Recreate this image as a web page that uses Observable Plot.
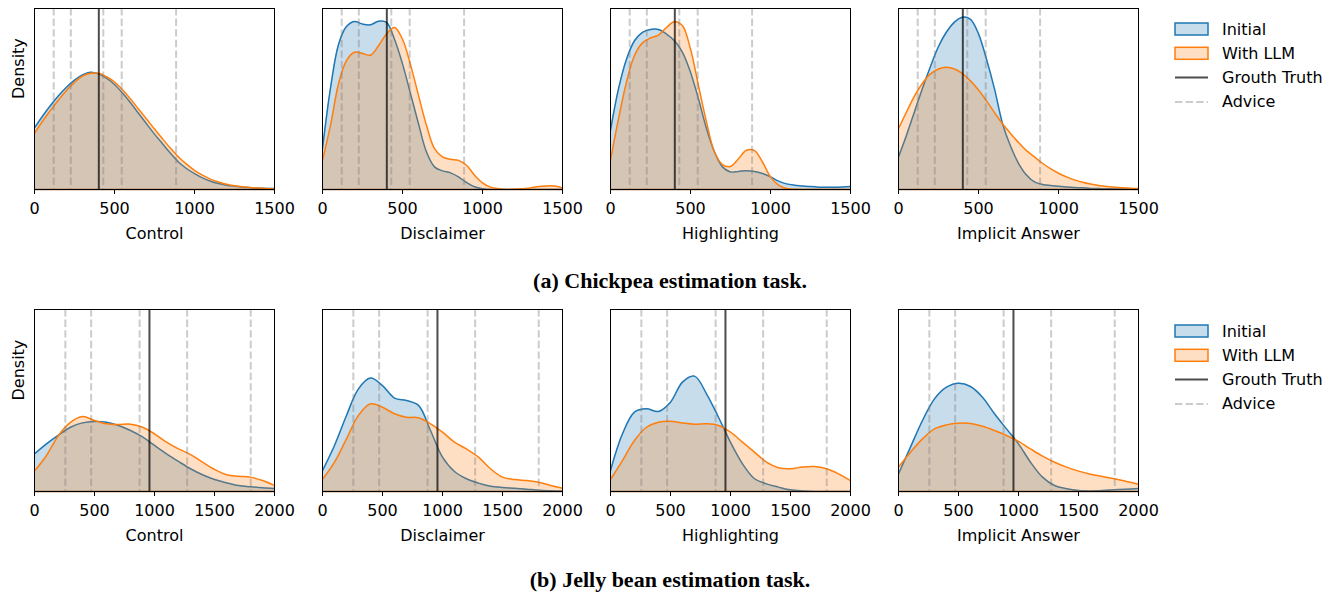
<!DOCTYPE html>
<html>
<head>
<meta charset="utf-8">
<script src="https://cdn.jsdelivr.net/npm/d3@7"></script>
<script src="https://cdn.jsdelivr.net/npm/@observablehq/plot@0.6"></script>
<style>
  body { margin: 0; background: #fff; }
  #root { position: relative; width: 1336px; height: 596px; font-family: "DejaVu Sans", sans-serif; overflow: hidden; }
  .panel { position: absolute; }
  .caption { position: absolute; left: 0; width: 1340px; text-align: center; font-family: "Liberation Serif", serif; font-weight: bold; font-size: 22px; line-height: 24px; height: 24px; }
  .legend { position: absolute; }
</style>
</head>
<body>
<div id="root"></div>
<script>
// ---------- categories / labels ----------
const conditions = ["Control", "Disclaimer", "Highlighting", "Implicit Answer"];
const seriesNames = ["Initial", "With LLM", "Grouth Truth", "Advice"];
const captions = ["(a) Chickpea estimation task.", "(b) Jelly bean estimation task."];

// ---------- chickpea task (x grid every 50) ----------
const chickpeaGrid = [0,50,100,150,200,250,300,350,400,450,500,550,600,650,700,750,800,850,900,950,1000,1050,1100,1150,1200,1250,1300,1350,1400,1450,1500];
const chickpeaTicks = [0, 500, 1000, 1500];
const chickpeaTruth = 402;
const chickpeaAdvice = [120, 227, 430, 545, 885];

const chickpeaControlInitial = [0.34,0.405,0.464,0.518,0.565,0.604,0.633,0.648,0.639,0.615,0.58,0.533,0.479,0.421,0.363,0.306,0.253,0.2,0.152,0.116,0.088,0.064,0.046,0.033,0.024,0.018,0.013,0.01,0.007,0.006,0.005];
const chickpeaControlLLM     = [0.31,0.377,0.437,0.495,0.547,0.592,0.626,0.642,0.642,0.623,0.594,0.551,0.5,0.445,0.39,0.334,0.28,0.228,0.18,0.14,0.106,0.079,0.057,0.041,0.029,0.021,0.015,0.011,0.008,0.005,0.004];

const chickpeaDisclaimerInitial = [0.226,0.56,0.8,0.9,0.928,0.914,0.91,0.93,0.923,0.83,0.694,0.53,0.363,0.207,0.125,0.103,0.092,0.07,0.039,0.015,0.004,0,0,0,0,0,0,0,0,0,0];
const chickpeaDisclaimerLLM     = [0.161,0.354,0.583,0.712,0.758,0.752,0.742,0.794,0.859,0.895,0.83,0.69,0.52,0.354,0.226,0.18,0.167,0.161,0.134,0.079,0.037,0.013,0.004,0,0.001,0.004,0.009,0.016,0.02,0.019,0.009];

const chickpeaHighlightingInitial = [0.327,0.556,0.72,0.822,0.868,0.884,0.884,0.859,0.822,0.758,0.648,0.5,0.336,0.207,0.125,0.097,0.1,0.104,0.1,0.088,0.07,0.046,0.031,0.024,0.02,0.016,0.013,0.012,0.012,0.014,0.017];
const chickpeaHighlightingLLM     = [0.161,0.39,0.593,0.74,0.81,0.837,0.853,0.895,0.927,0.905,0.776,0.574,0.373,0.207,0.138,0.127,0.17,0.217,0.215,0.152,0.07,0.024,0.006,0.001,0,0,0,0,0,0,0];

const chickpeaImplicitInitial = [0.18,0.3,0.43,0.56,0.68,0.79,0.87,0.925,0.952,0.94,0.86,0.72,0.556,0.365,0.24,0.145,0.08,0.042,0.028,0.022,0.018,0.014,0.011,0.009,0.006,0.005,0.004,0.003,0.003,0.002,0.002];
const chickpeaImplicitLLM     = [0.336,0.428,0.516,0.587,0.639,0.666,0.675,0.666,0.64,0.6,0.55,0.49,0.425,0.363,0.31,0.26,0.215,0.18,0.145,0.115,0.09,0.07,0.053,0.04,0.03,0.022,0.016,0.012,0.009,0.007,0.005];

// ---------- jelly bean task (x grid every 100) ----------
const jellyGrid = [0,100,200,300,400,500,600,700,800,900,1000,1100,1200,1300,1400,1500,1600,1700,1800,1900,2000];
const jellyTicks = [0, 500, 1000, 1500, 2000];
const jellyTruth = 958;
const jellyAdvice = [257, 472, 876, 1272, 1802];

const jellyControlInitial = [0.207,0.262,0.31,0.353,0.377,0.385,0.381,0.363,0.335,0.3,0.253,0.207,0.165,0.125,0.092,0.066,0.048,0.033,0.026,0.02,0.016];
const jellyControlLLM     = [0.112,0.198,0.308,0.38,0.412,0.39,0.372,0.368,0.37,0.353,0.317,0.271,0.234,0.203,0.161,0.121,0.092,0.084,0.079,0.06,0.033];

const jellyDisclaimerInitial = [0.115,0.253,0.418,0.564,0.623,0.582,0.513,0.5,0.473,0.335,0.189,0.11,0.07,0.046,0.029,0.022,0.018,0.013,0.007,0.004,0.002];
const jellyDisclaimerLLM     = [0.066,0.161,0.289,0.418,0.482,0.463,0.427,0.408,0.405,0.372,0.326,0.271,0.234,0.189,0.125,0.079,0.066,0.06,0.051,0.033,0.018];

const jellyHighlightingInitial = [0.115,0.317,0.436,0.454,0.44,0.491,0.601,0.634,0.537,0.408,0.27,0.152,0.07,0.042,0.024,0.009,0.003,0,0,0,0];
const jellyHighlightingLLM     = [0.066,0.17,0.28,0.353,0.381,0.386,0.377,0.37,0.372,0.363,0.326,0.271,0.216,0.161,0.13,0.125,0.134,0.137,0.125,0.097,0.06];

const jellyImplicitInitial = [0.097,0.244,0.39,0.509,0.573,0.595,0.577,0.518,0.427,0.344,0.262,0.161,0.079,0.033,0.015,0.005,0.003,0.005,0.009,0.013,0.016];
const jellyImplicitLLM     = [0.134,0.216,0.289,0.344,0.366,0.375,0.374,0.359,0.335,0.308,0.275,0.234,0.194,0.161,0.134,0.112,0.095,0.082,0.07,0.055,0.04];

// ---------- styling ----------
const BLUE = "#1f77b4", ORANGE = "#ff7f0e";
const FONT = 16;
const frameLefts = [34, 321.5, 609.5, 897.5];
const rows = [
  { top: 8, h: 181, grid: chickpeaGrid, ticks: chickpeaTicks, truth: chickpeaTruth, advice: chickpeaAdvice,
    series: [[chickpeaControlInitial, chickpeaControlLLM], [chickpeaDisclaimerInitial, chickpeaDisclaimerLLM],
             [chickpeaHighlightingInitial, chickpeaHighlightingLLM], [chickpeaImplicitInitial, chickpeaImplicitLLM]],
    captionY: 281, legendY: 29 },
  { top: 309, h: 182, grid: jellyGrid, ticks: jellyTicks, truth: jellyTruth, advice: jellyAdvice,
    series: [[jellyControlInitial, jellyControlLLM], [jellyDisclaimerInitial, jellyDisclaimerLLM],
             [jellyHighlightingInitial, jellyHighlightingLLM], [jellyImplicitInitial, jellyImplicitLLM]],
    captionY: 580, legendY: 331 }
];

const root = document.getElementById("root");
const W = 240, MR = 26, MB = 60, MT = 8;

rows.forEach((row, ri) => {
  const xmax = row.ticks[row.ticks.length - 1];
  conditions.forEach((cond, ci) => {
    const ML = ci === 0 ? 34 : 12;
    const init = row.grid.map((x, i) => ({x, y: row.series[ci][0][i]}));
    const llm = row.grid.map((x, i) => ({x, y: row.series[ci][1][i]}));
    const curve = "catmull-rom";
    const marks = [
      Plot.areaY(init, {x: "x", y: "y", fill: BLUE, fillOpacity: 0.25, curve, clip: true}),
      Plot.lineY(init, {x: "x", y: "y", stroke: BLUE, strokeWidth: 1.5, curve, clip: true}),
      Plot.areaY(llm, {x: "x", y: "y", fill: ORANGE, fillOpacity: 0.25, curve, clip: true}),
      Plot.lineY(llm, {x: "x", y: "y", stroke: ORANGE, strokeWidth: 1.5, curve, clip: true}),
      Plot.ruleY([0], {stroke: "#8a4a10", strokeWidth: 1.5}),
      Plot.ruleX(row.advice, {stroke: "gray", strokeOpacity: 0.4, strokeWidth: 2, strokeDasharray: "7.4,3.2"}),
      Plot.ruleX([row.truth], {stroke: "black", strokeOpacity: 0.7, strokeWidth: 2}),
      Plot.frame({stroke: "black", strokeWidth: 1}),
      Plot.axisX({ticks: row.ticks, tickSize: 5, tickPadding: 8, tickFormat: d => String(d), label: null, fontSize: FONT}),
      Plot.text([cond], {frameAnchor: "bottom", dy: 44, lineAnchor: "middle", fontSize: FONT, fill: "black"})
    ];
    if (ci === 0) marks.push(Plot.text(["Density"], {frameAnchor: "left", dx: -16, rotate: -90, lineAnchor: "middle", fontSize: FONT, fill: "black"}));
    const p = Plot.plot({
      width: W + ML + MR, height: row.h + MT + MB,
      marginLeft: ML, marginRight: MR, marginTop: MT, marginBottom: MB,
      x: {domain: [0, xmax]},
      y: {domain: [0, 1], axis: null},
      style: {fontFamily: "DejaVu Sans", fontSize: FONT + "px", color: "black", background: "transparent", overflow: "visible"},
      marks
    });
    const div = document.createElement("div");
    div.className = "panel";
    div.style.left = (frameLefts[ci] - ML) + "px";
    div.style.top = (row.top - MT) + "px";
    div.appendChild(p);
    root.appendChild(div);
  });

  // caption
  const cap = document.createElement("div");
  cap.className = "caption";
  cap.style.top = (row.captionY - 12) + "px";
  cap.textContent = captions[ri];
  root.appendChild(cap);

  // legend
  const ns = "http://www.w3.org/2000/svg";
  const svg = document.createElementNS(ns, "svg");
  svg.setAttribute("width", 170); svg.setAttribute("height", 96);
  svg.setAttribute("class", "legend");
  svg.style.left = "1168px"; svg.style.top = (row.legendY - 12) + "px";
  seriesNames.forEach((name, k) => {
    const cy = 12 + k * 24.3;
    if (k < 2) {
      const c = k === 0 ? BLUE : ORANGE;
      const r = document.createElementNS(ns, "rect");
      r.setAttribute("x", 7); r.setAttribute("y", cy - 6); r.setAttribute("width", 33); r.setAttribute("height", 12);
      r.setAttribute("fill", c); r.setAttribute("fill-opacity", 0.25);
      r.setAttribute("stroke", c); r.setAttribute("stroke-width", 1.5);
      svg.appendChild(r);
    } else {
      const l = document.createElementNS(ns, "line");
      l.setAttribute("x1", 7); l.setAttribute("x2", 40); l.setAttribute("y1", cy); l.setAttribute("y2", cy);
      l.setAttribute("stroke-width", 2);
      if (k === 2) { l.setAttribute("stroke", "black"); l.setAttribute("stroke-opacity", 0.7); }
      else { l.setAttribute("stroke", "gray"); l.setAttribute("stroke-opacity", 0.4); l.setAttribute("stroke-dasharray", "7.4,3.2"); }
      svg.appendChild(l);
    }
    const t = document.createElementNS(ns, "text");
    t.setAttribute("x", 54); t.setAttribute("y", cy); t.setAttribute("dominant-baseline", "central");
    t.setAttribute("font-family", "DejaVu Sans"); t.setAttribute("font-size", FONT);
    t.textContent = name;
    svg.appendChild(t);
  });
  root.appendChild(svg);
});
</script>
</body>
</html>
